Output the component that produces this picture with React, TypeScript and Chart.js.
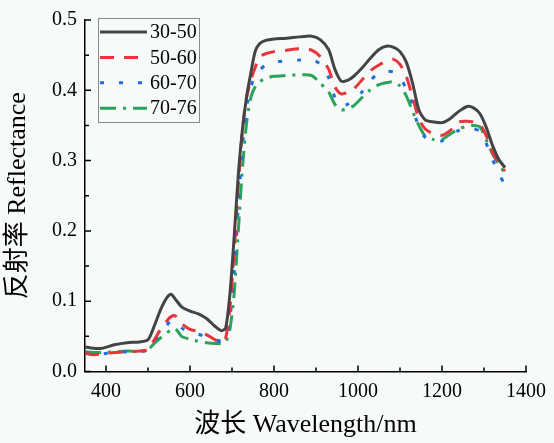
import { useEffect, useRef } from "react"
import { Chart, registerables, type Plugin } from "chart.js"
Chart.register(...registerables)

const WAVELENGTHS = [
  350, 370, 390, 420, 450, 480, 500, 515, 530, 545, 555, 565, 580, 600, 620, 640, 660, 675, 685, 695,
  705, 715, 725, 735, 745, 755, 765, 780, 800, 830, 860, 890, 910, 930, 945, 960, 975, 990, 1010, 1030,
  1050, 1070, 1085, 1100, 1115, 1130, 1145, 1160, 1180, 1200, 1220, 1240, 1260, 1275, 1290, 1305, 1320, 1335, 1350,
]

const R_30_50 = [
  0.035, 0.033, 0.033, 0.038, 0.041, 0.042, 0.045, 0.065, 0.088, 0.105, 0.110, 0.103, 0.092, 0.086, 0.082, 0.075, 0.064, 0.058, 0.062, 0.110,
  0.190, 0.280, 0.345, 0.392, 0.425, 0.455, 0.466, 0.471, 0.473, 0.474, 0.476, 0.477, 0.472, 0.458, 0.430, 0.413, 0.414, 0.420, 0.432, 0.446,
  0.458, 0.463, 0.461, 0.455, 0.440, 0.410, 0.372, 0.358, 0.355, 0.354, 0.360, 0.370, 0.377, 0.375, 0.367, 0.348, 0.322, 0.302, 0.290,
]
const R_50_60 = [
  0.026, 0.024, 0.025, 0.027, 0.028, 0.029, 0.031, 0.045, 0.060, 0.072, 0.078, 0.079, 0.068, 0.060, 0.057, 0.052, 0.045, 0.041, 0.048, 0.090,
  0.170, 0.265, 0.345, 0.390, 0.415, 0.432, 0.447, 0.452, 0.455, 0.457, 0.459, 0.457, 0.448, 0.430, 0.405, 0.395, 0.397, 0.402, 0.415, 0.428,
  0.436, 0.442, 0.444, 0.437, 0.420, 0.390, 0.360, 0.345, 0.338, 0.336, 0.343, 0.355, 0.356, 0.355, 0.352, 0.336, 0.312, 0.296, 0.285,
]
const R_60_70 = [
  0.027, 0.025, 0.025, 0.027, 0.028, 0.029, 0.030, 0.043, 0.055, 0.066, 0.072, 0.072, 0.062, 0.056, 0.053, 0.049, 0.045, 0.043, 0.045, 0.075,
  0.140, 0.235, 0.320, 0.375, 0.405, 0.420, 0.428, 0.436, 0.440, 0.442, 0.443, 0.444, 0.437, 0.418, 0.390, 0.378, 0.380, 0.386, 0.398, 0.414,
  0.425, 0.427, 0.426, 0.418, 0.402, 0.380, 0.345, 0.333, 0.327, 0.328, 0.335, 0.343, 0.346, 0.345, 0.342, 0.325, 0.302, 0.282, 0.265,
]
const R_70_76 = [
  0.028, 0.027, 0.027, 0.028, 0.029, 0.029, 0.031, 0.040, 0.048, 0.055, 0.059, 0.061, 0.050, 0.046, 0.043, 0.041, 0.040, 0.040, 0.042, 0.060,
  0.110, 0.200, 0.290, 0.355, 0.390, 0.405, 0.412, 0.417, 0.420, 0.421, 0.422, 0.421, 0.410, 0.398, 0.380, 0.372, 0.374, 0.378, 0.390, 0.401,
  0.408, 0.411, 0.412, 0.406, 0.392, 0.370, 0.350, 0.335, 0.330, 0.330, 0.338, 0.345, 0.349, 0.350, 0.348, 0.330, 0.310, 0.295, 0.282,
]

const SERIES_LABELS = ["30-50", "50-60", "60-70", "70-76"]
const X_TICKS = [400, 600, 800, 1000, 1200, 1400]
const Y_TICKS = [0, 0.1, 0.2, 0.3, 0.4, 0.5]

const BG = "#f8fafa"
const FONT = "'Liberation Serif', 'Times New Roman', 'Noto Sans CJK SC', serif"

// inward major/minor ticks like Origin
const innerTicks: Plugin<"line"> = {
  id: "innerTicks",
  afterDraw(chart) {
    const { ctx, chartArea, scales } = chart
    const x = scales.x
    const y = scales.y
    ctx.save()
    ctx.strokeStyle = "#000"
    ctx.lineWidth = 1.5
    ctx.beginPath()
    for (let v = 400; v <= 1400; v += 100) {
      const px = x.getPixelForValue(v)
      const len = v % 200 === 0 ? 6 : 4
      ctx.moveTo(px, chartArea.bottom)
      ctx.lineTo(px, chartArea.bottom - len)
    }
    for (let i = 0; i <= 10; i++) {
      const py = y.getPixelForValue(i * 0.05)
      const len = i % 2 === 0 ? 6 : 4
      ctx.moveTo(chartArea.left, py)
      ctx.lineTo(chartArea.left + len, py)
    }
    ctx.stroke()
    ctx.restore()
  },
}

const boxLegend: Plugin<"line"> = {
  id: "boxLegend",
  afterDraw(chart) {
    const { ctx } = chart
    const left = 98, top = 18, w = 101, h = 104
    ctx.save()
    ctx.fillStyle = BG
    ctx.fillRect(left, top, w, h)
    ctx.strokeStyle = "#8a8a8a"
    ctx.lineWidth = 1
    ctx.strokeRect(left + 0.5, top + 0.5, w, h)
    chart.data.datasets.forEach((ds: any, i) => {
      const cy = 32 + i * 25.4
      ctx.strokeStyle = ds.borderColor
      ctx.lineWidth = ds.borderWidth
      ctx.setLineDash(ds.borderDash || [])
      ctx.beginPath()
      ctx.moveTo(100, cy)
      ctx.lineTo(147, cy)
      ctx.stroke()
      ctx.setLineDash([])
      ctx.fillStyle = "#000"
      ctx.font = `20px ${FONT}`
      ctx.textBaseline = "middle"
      ctx.fillText(ds.label, 150, cy + 1)
    })
    ctx.restore()
  },
}

const background: Plugin<"line"> = {
  id: "background",
  beforeDraw(chart) {
    const { ctx, width, height } = chart
    ctx.save()
    ctx.fillStyle = BG
    ctx.fillRect(0, 0, width, height)
    ctx.restore()
  },
}

export default function App() {
  const canvasRef = useRef<HTMLCanvasElement>(null)

  useEffect(() => {
    document.body.style.margin = "0"
    document.body.style.background = BG
    const canvas = canvasRef.current
    if (!canvas) return

    const styles = [
      { color: "#444444", dash: [] as number[] },
      { color: "#e8343a", dash: [14, 10] },
      { color: "#1c6fe0", dash: [4, 15] },
      { color: "#2ba35a", dash: [16, 7, 3, 7] },
    ]
    const values = [R_30_50, R_50_60, R_60_70, R_70_76]

    const chart = new Chart(canvas, {
      type: "line",
      data: {
        datasets: values.map((vals, i) => ({
          label: SERIES_LABELS[i],
          data: WAVELENGTHS.map((w, j) => ({ x: w, y: vals[j] })),
          borderColor: styles[i].color,
          borderDash: styles[i].dash,
          borderWidth: 3,
          borderCapStyle: "butt" as const,
          pointRadius: 0,
          tension: 0.25,
          fill: false,
        })),
      },
      options: {
        animation: false,
        responsive: true,
        maintainAspectRatio: false,
        layout: { padding: { top: 14.5, right: 28, left: 0, bottom: 0 } },
        plugins: { legend: { display: false }, tooltip: { enabled: false } },
        scales: {
          x: {
            type: "linear",
            min: 350,
            max: 1400,
            afterBuildTicks: (s) => { s.ticks = X_TICKS.map((v) => ({ value: v })) },
            afterFit: (s) => { s.height = 71.5 },
            grid: { display: false, drawTicks: false },
            border: { display: true, color: "#000", width: 1.5 },
            ticks: {
              color: "#000",
              font: { family: FONT, size: 20 },
              padding: 8,
              maxRotation: 0,
              callback: (v) => String(v),
            },
            title: {
              display: true,
              text: "波长 Wavelength/nm",
              color: "#000",
              font: { family: FONT, size: 26 },
              padding: { top: 4, bottom: 2 },
            },
          },
          y: {
            min: 0,
            max: 0.5,
            afterBuildTicks: (s) => { s.ticks = Y_TICKS.map((v) => ({ value: v })) },
            afterFit: (s) => { s.width = 85 },
            grid: { display: false, drawTicks: false },
            border: { display: true, color: "#000", width: 1.5 },
            ticks: {
              color: "#000",
              font: { family: FONT, size: 20 },
              padding: 8,
              callback: (v) => Number(v).toFixed(1),
            },
            title: {
              display: true,
              text: "反射率 Reflectance",
              color: "#000",
              font: { family: FONT, size: 26 },
              padding: { top: 3, bottom: 4 },
            },
          },
        },
      },
      plugins: [background, innerTicks, boxLegend],
    })

    return () => { chart.destroy() }
  }, [])

  return (
    <div style={{ position: "relative", width: 554, height: 443, background: BG }}>
      <canvas ref={canvasRef} role="img" aria-label="Reflectance spectra by group" />
    </div>
  )
}
